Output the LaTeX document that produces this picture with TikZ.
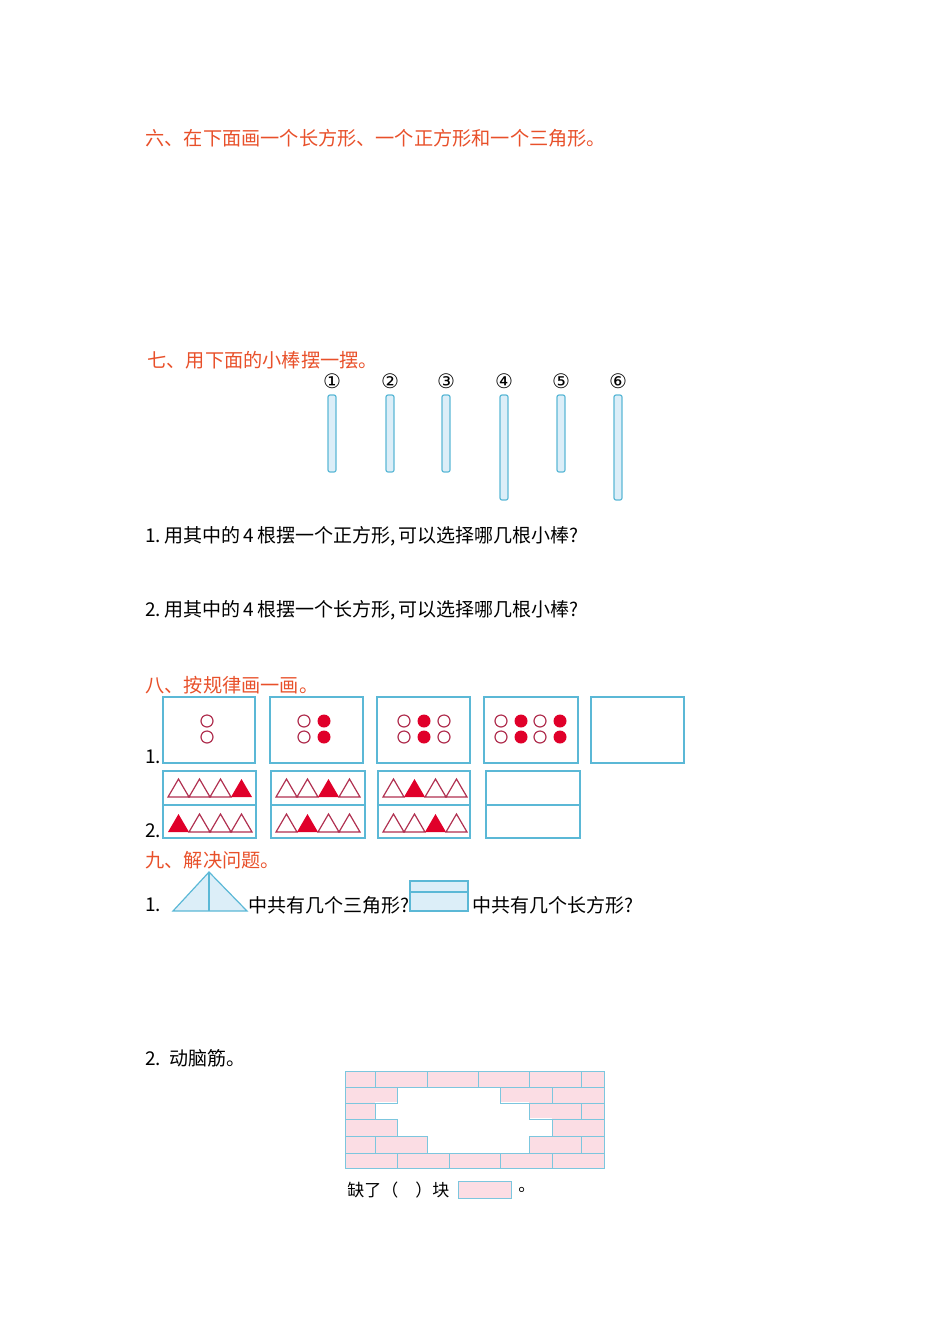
\documentclass[tikz,border=0pt]{standalone}
\usepackage{fontspec}
\newfontfamily\cjk{Noto Sans CJK SC}
\newfontfamily\djv{DejaVu Sans}
\definecolor{head}{HTML}{E8502A}
\definecolor{bl}{HTML}{5BB8D6}
\definecolor{lbl}{HTML}{DCEEF8}
\definecolor{rd}{HTML}{E0002A}
\definecolor{ol}{HTML}{B03050}
\definecolor{pk}{HTML}{FBDDE4}
\begin{document}
\begin{tikzpicture}[x=0.5pt,y=-0.5pt,
  hd/.style={anchor=west,inner sep=0,text=head,font=\cjk\fontsize{9.6}{10}\selectfont},
  tx/.style={anchor=west,inner sep=0,font=\cjk\fontsize{9.5}{10}\selectfont},
  stick/.style={draw=bl,fill=lbl,line width=0.6pt,rounded corners=1pt},
  pbox/.style={draw=bl,line width=0.7pt},
  oc/.style={draw=ol,line width=0.6pt},
  brick/.style={draw=bl!80,fill=pk,line width=0.5pt}]
\useasboundingbox (0,0) rectangle (950,1344);
\node[hd] (h6) at (145,138) {六、在下面画一个长方形、一个正方形和一个三角形。};
\node[hd] (h7) at (147,360) {七、用下面的小棒摆一摆。};
\foreach \x/\n/\l in {332/①/472,390/②/472,446/③/472,504/④/500,561/⑤/472,618/⑥/500}{
  \node[font=\djv\fontsize{10}{11}\selectfont,inner sep=0] (n\x) at (\x,381) {\n};
  \draw[stick] (\x-4,395) rectangle (\x+4,\l);
}
\node[tx] (q1) at (145,536) {1.\,用其中的\,4\,根摆一个正方形,\,可以选择哪几根小棒?};
\node[tx] (q2) at (145,610) {2.\,用其中的\,4\,根摆一个长方形,\,可以选择哪几根小棒?};
\node[hd] (h8) at (145,685) {八、按规律画一画。};
\node[tx] (l1) at (145,757) {1.};
\node[tx] (l2) at (145,831) {2.};
\foreach \a/\b in {163/255,270/363,377/470,484/578,591/684}
  \draw[pbox] (\a,697) rectangle (\b,763);
\foreach \cx/\f in {207/0,304/0,324/1,404/0,424/1,444/0,501/0,521/1,540/0,560/1}{
  \foreach \cy in {721,737}{
    \ifnum\f=1 \fill[rd] (\cx,\cy) circle (6.5);
    \else \draw[oc] (\cx,\cy) circle (6); \fi
  }
}
\foreach \a/\b in {163/256,271/365,378/470,486/580}{
  \draw[pbox] (\a,771) rectangle (\b,838);
  \draw[pbox] (\a,805) -- (\b,805);
}
\foreach \a/\t/\u in {168/4/1,276/3/2,383/2/3}{
  \foreach \i in {1,2,3,4}{
    \pgfmathsetmacro\xl{\a+(\i-1)*21}
    \ifnum\i=\t \fill[rd] (\xl,797) -- (\xl+10.5,779) -- (\xl+21,797) -- cycle;
    \else \draw[oc] (\xl,797) -- (\xl+10.5,779) -- (\xl+21,797) -- cycle; \fi
    \ifnum\i=\u \fill[rd] (\xl,832) -- (\xl+10.5,814) -- (\xl+21,832) -- cycle;
    \else \draw[oc] (\xl,832) -- (\xl+10.5,814) -- (\xl+21,832) -- cycle; \fi
  }
}
\node[hd] (h9) at (145,860) {九、解决问题。};
\node[tx] (p1) at (145,905) {1.};
\draw[draw=bl,fill=lbl,line width=0.6pt] (173,911) -- (209,872) -- (247,911) -- cycle;
\draw[bl,line width=0.6pt] (209,872) -- (209,911);
\node[tx] (t1) at (248,905) {中共有几个三角形?};
\draw[draw=bl,fill=lbl,line width=0.6pt] (410,881) rectangle (468,911);
\draw[bl,line width=0.6pt] (410,892) -- (468,892);
\node[tx] (t2) at (472,905) {中共有几个长方形?};
\node[tx] (p2) at (145,1058) {2.\ \ 动脑筋。};
\foreach \r/\ys/\ye in {1/1071/1087,2/1087/1103,3/1103/1119,4/1119/1136,5/1136/1153,6/1153/1168}{
  \ifodd\r
    \foreach \xa/\xb in {345/375,375/427,427/478,478/529,529/581,581/604} \draw[brick] (\xa,\ys) rectangle (\xb,\ye);
  \else
    \foreach \xa/\xb in {345/397,397/449,449/500,500/552,552/604} \draw[brick] (\xa,\ys) rectangle (\xb,\ye);
  \fi
}
\fill[white] (397.4,1087.4) rectangle (499.6,1103);
\fill[white] (375.4,1102) rectangle (528.6,1119);
\fill[white] (397.4,1118) rectangle (551.6,1136);
\fill[white] (427.4,1135) rectangle (528.6,1152.6);
\draw[bl!80,line width=0.5pt] (397,1087) -- (397,1103) -- (375,1103) -- (375,1119) -- (397,1119) -- (397,1136) -- (427,1136) -- (427,1153) -- (529,1153) -- (529,1136) -- (552,1136) -- (552,1119) -- (529,1119) -- (529,1103) -- (500,1103) -- (500,1087) -- cycle;
\node[tx,font=\cjk\fontsize{8.5}{10}\selectfont] (m1) at (347,1190) {缺了（\quad）块};
\draw[brick] (458,1181) rectangle (511,1198);
\node[tx,font=\cjk\fontsize{8.5}{10}\selectfont] (m2) at (518,1190) {。};
\end{tikzpicture}
\end{document}
